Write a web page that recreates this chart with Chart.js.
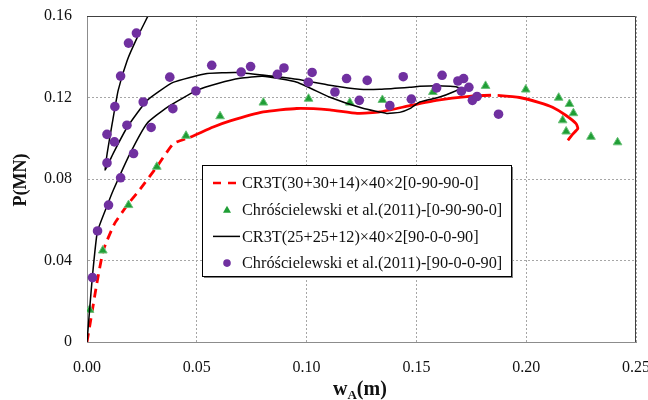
<!DOCTYPE html>
<html>
<head>
<meta charset="utf-8">
<script src="https://cdn.jsdelivr.net/npm/chart.js@4.4.1/dist/chart.umd.min.js"></script>
<style>
  body { margin: 0; background: #fff; }
  #wrap { width: 648px; height: 400px; }
</style>
</head>
<body>
<div id="wrap"><canvas id="diagram" width="648" height="400"></canvas></div>
<script>
// CR3T [0-90-90-0] load path
const redX = [0, 0.0022, 0.0045, 0.0075, 0.0125, 0.0189, 0.0242, 0.0318, 0.0394, 0.0470,
  0.0575, 0.0652, 0.0803, 0.0955, 0.1106, 0.1230, 0.1333, 0.1470, 0.1590, 0.1742,
  0.1840, 0.1870, 0.1970, 0.2060, 0.2120, 0.2180, 0.2227, 0.2235, 0.2210, 0.2190];
const redY = [0, 0.0140, 0.0289, 0.0452, 0.0580, 0.0680, 0.0750, 0.0860, 0.0974, 0.1005,
  0.1055, 0.1085, 0.1129, 0.1146, 0.1139, 0.1122, 0.1129, 0.1160, 0.1186, 0.1206,
  0.1211, 0.1210, 0.1200, 0.1175, 0.1152, 0.1113, 0.1072, 0.1048, 0.1018, 0.0990];

// Chróścielewski et al. [0-90-90-0]
const triX = [0.0012, 0.0072, 0.0189, 0.0318, 0.0451, 0.0606, 0.0803, 0.1009, 0.1197, 0.1345,
  0.1575, 0.1815, 0.1998, 0.2148, 0.2197, 0.2215, 0.2166, 0.2182, 0.2295, 0.2416];
const triY = [0.0158, 0.0449, 0.0672, 0.0860, 0.1012, 0.1108, 0.1175, 0.1194, 0.1175, 0.1188,
  0.1227, 0.1257, 0.1239, 0.1199, 0.1168, 0.1123, 0.1088, 0.1033, 0.1007, 0.0980];

// CR3T [90-0-0-90] load path (snaps back and loops)
const blackX = [0, 0.0012, 0.0024, 0.0047, 0.0092, 0.0120, 0.0197, 0.0274, 0.0365, 0.0500,
  0.0600, 0.0697, 0.0800, 0.0956, 0.1106, 0.1256, 0.1365, 0.1424, 0.1470, 0.1515,
  0.1606, 0.1667, 0.1697, 0.1680, 0.1620, 0.1515, 0.1470, 0.1333, 0.1242, 0.1106,
  0.0956, 0.0800, 0.0683, 0.0547, 0.0392, 0.0274, 0.0183, 0.0120, 0.0083, 0.0092,
  0.0115, 0.0142, 0.0183, 0.0229, 0.0279, 0.0300];
const blackY = [0, 0.0160, 0.0315, 0.0540, 0.0670, 0.0746, 0.0927, 0.1074, 0.1152, 0.1235,
  0.1270, 0.1294, 0.1304, 0.1275, 0.1201, 0.1147, 0.1122, 0.1127, 0.1145, 0.1178,
  0.1202, 0.1227, 0.1245, 0.1253, 0.1257, 0.1255, 0.1250, 0.1240, 0.1240, 0.1260,
  0.1289, 0.1310, 0.1323, 0.1318, 0.1274, 0.1186, 0.1054, 0.0927, 0.0844, 0.0927,
  0.1074, 0.1235, 0.1382, 0.1495, 0.1603, 0.1650];

// Chróścielewski et al. [90-0-0-90]
const circX = [0.0025, 0.0048, 0.0098, 0.0091, 0.0091, 0.0125, 0.0127, 0.0153, 0.0153, 0.0189,
  0.0225, 0.0182, 0.0212, 0.0256, 0.0292, 0.0377, 0.0391, 0.0496, 0.0568, 0.0702,
  0.0745, 0.0867, 0.0897, 0.1025, 0.1008, 0.1129, 0.1182, 0.1276, 0.1240, 0.1379,
  0.1440, 0.1477, 0.1592, 0.1617, 0.1689, 0.1715, 0.1705, 0.1739, 0.1755, 0.1776,
  0.1874];
const circY = [0.0316, 0.0545, 0.0672, 0.0879, 0.1019, 0.0982, 0.1155, 0.1305, 0.0806, 0.1467,
  0.1516, 0.1064, 0.0925, 0.1178, 0.1053, 0.1300, 0.1145, 0.1232, 0.1358, 0.1325,
  0.1352, 0.1314, 0.1345, 0.1323, 0.1275, 0.1227, 0.1293, 0.1284, 0.1186, 0.1160,
  0.1302, 0.1192, 0.1247, 0.1309, 0.1281, 0.1293, 0.1231, 0.1250, 0.1186, 0.1205,
  0.1118];

const labels = [
  "CR3T(30+30+14)×40×2[0-90-90-0]",
  "Chróścielewski et al.(2011)-[0-90-90-0]",
  "CR3T(25+25+12)×40×2[90-0-0-90]",
  "Chróścielewski et al.(2011)-[90-0-0-90]"
];

const FONT = "'Liberation Serif', 'Times New Roman', serif";
const RED = "#ff0000";
const GREEN = "#1f9e35";
const PURPLE = "#7030a0";

function pts(xs, ys) {
  return xs.map((x, i) => ({ x: x, y: ys[i] }));
}

// legend box + axis titles drawn on top of the plot
const extras = {
  id: "extras",
  afterDraw(chart) {
    const ctx = chart.ctx;
    const a = chart.chartArea;
    ctx.save();

    // frame top / right
    ctx.strokeStyle = "#404040";
    ctx.lineWidth = 1;
    ctx.beginPath();
    ctx.moveTo(a.left, a.top + 0.5);
    ctx.lineTo(a.right - 0.5, a.top + 0.5);
    ctx.lineTo(a.right - 0.5, a.bottom);
    ctx.stroke();

    // legend
    const bx = 202, by = 165, bw = 309, bh = 111;
    ctx.fillStyle = "#7f7f7f";
    ctx.fillRect(bx + 2, by + 2, bw, bh);
    ctx.fillStyle = "#fff";
    ctx.fillRect(bx, by, bw, bh);
    ctx.strokeStyle = "#000";
    ctx.lineWidth = 1;
    ctx.strokeRect(bx + 0.5, by + 0.5, bw, bh);

    ctx.font = "16.3px " + FONT;
    ctx.textBaseline = "middle";
    ctx.textAlign = "left";
    for (let i = 0; i < 4; i++) {
      const ry = 183 + i * 26.7;
      if (i === 0) {
        ctx.strokeStyle = RED;
        ctx.lineWidth = 2.5;
        ctx.setLineDash([8, 7]);
        ctx.beginPath();
        ctx.moveTo(213, ry);
        ctx.lineTo(240, ry);
        ctx.stroke();
        ctx.setLineDash([]);
      } else if (i === 2) {
        ctx.strokeStyle = "#000";
        ctx.lineWidth = 1.5;
        ctx.beginPath();
        ctx.moveTo(213, ry);
        ctx.lineTo(240, ry);
        ctx.stroke();
      } else if (i === 1) {
        ctx.fillStyle = GREEN;
        ctx.beginPath();
        ctx.moveTo(227, ry - 4);
        ctx.lineTo(231, ry + 3);
        ctx.lineTo(223, ry + 3);
        ctx.closePath();
        ctx.fill();
      } else {
        ctx.fillStyle = PURPLE;
        ctx.beginPath();
        ctx.arc(227, ry, 3.8, 0, Math.PI * 2);
        ctx.fill();
      }
      ctx.fillStyle = "#111";
      ctx.fillText(labels[i], 242, ry + 1);
    }

    // y title
    ctx.fillStyle = "#111";
    ctx.font = "bold 18px " + FONT;
    ctx.translate(21, 180);
    ctx.rotate(-Math.PI / 2);
    ctx.textAlign = "center";
    ctx.fillText("P(MN)", 0, 0);
    ctx.setTransform(1, 0, 0, 1, 0, 0);

    // x title with subscript
    ctx.textAlign = "left";
    ctx.textBaseline = "alphabetic";
    let tx = 333;
    ctx.font = "bold 20px " + FONT;
    ctx.fillText("w", tx, 395);
    tx += ctx.measureText("w").width;
    ctx.font = "bold 13px " + FONT;
    ctx.fillText("A", tx, 399);
    tx += ctx.measureText("A").width;
    ctx.font = "bold 20px " + FONT;
    ctx.fillText("(m)", tx, 395);
    ctx.restore();
  }
};

new Chart("diagram", {
  type: "scatter",
  data: {
    datasets: [{
      label: labels[0],
      data: pts(redX, redY),
      showLine: true,
      borderColor: RED,
      borderWidth: 2.8,
      pointRadius: 0,
      tension: 0.15,
      order: 3,
      segment: {
        borderDash: c => c.p1.parsed.x <= 0.0471 ? [9, 6] : undefined,
        borderColor: c => (c.p0.parsed.x >= 0.1839 && c.p1.parsed.x <= 0.1871) ? "rgba(0,0,0,0)" : undefined
      }
    }, {
      label: labels[1],
      data: pts(triX, triY),
      pointStyle: "triangle",
      pointRadius: 5,
      backgroundColor: GREEN,
      borderColor: "#6cc27a",
      borderWidth: 1,
      order: 2
    }, {
      label: labels[2],
      data: pts(blackX, blackY),
      showLine: true,
      borderColor: "#000",
      borderWidth: 1.5,
      pointRadius: 0,
      tension: 0.15,
      order: 1
    }, {
      label: labels[3],
      data: pts(circX, circY),
      pointStyle: "circle",
      pointRadius: 4.8,
      backgroundColor: PURPLE,
      borderColor: PURPLE,
      borderWidth: 0,
      order: 0
    }]
  },
  options: {
    responsive: false,
    animation: false,
    layout: { padding: { top: 16, right: 12, left: 0, bottom: 0 } },
    plugins: {
      legend: { display: false },
      tooltip: { enabled: false }
    },
    scales: {
      x: {
        type: "linear",
        min: 0,
        max: 0.25,
        afterFit: s => { s.height = 58; s.paddingLeft = 0; s.paddingRight = 0; },
        ticks: {
          stepSize: 0.05,
          padding: 16,
          color: "#111",
          font: { family: FONT, size: 16 },
          callback: v => v.toFixed(2)
        },
        grid: { color: "#a6a6a6", drawTicks: false },
        border: { color: "#8c8c8c", dash: [2, 2] }
      },
      y: {
        type: "linear",
        min: 0,
        max: 0.16,
        afterFit: s => { s.width = 87; s.paddingTop = 0; s.paddingBottom = 0; },
        ticks: {
          stepSize: 0.04,
          padding: 15,
          color: "#111",
          font: { family: FONT, size: 16 },
          callback: v => (v === 0 ? "0" : v.toFixed(2))
        },
        grid: { color: "#a6a6a6", drawTicks: false },
        border: { color: "#8c8c8c", dash: [2, 2] }
      }
    }
  },
  plugins: [extras]
});
</script>
</body>
</html>
